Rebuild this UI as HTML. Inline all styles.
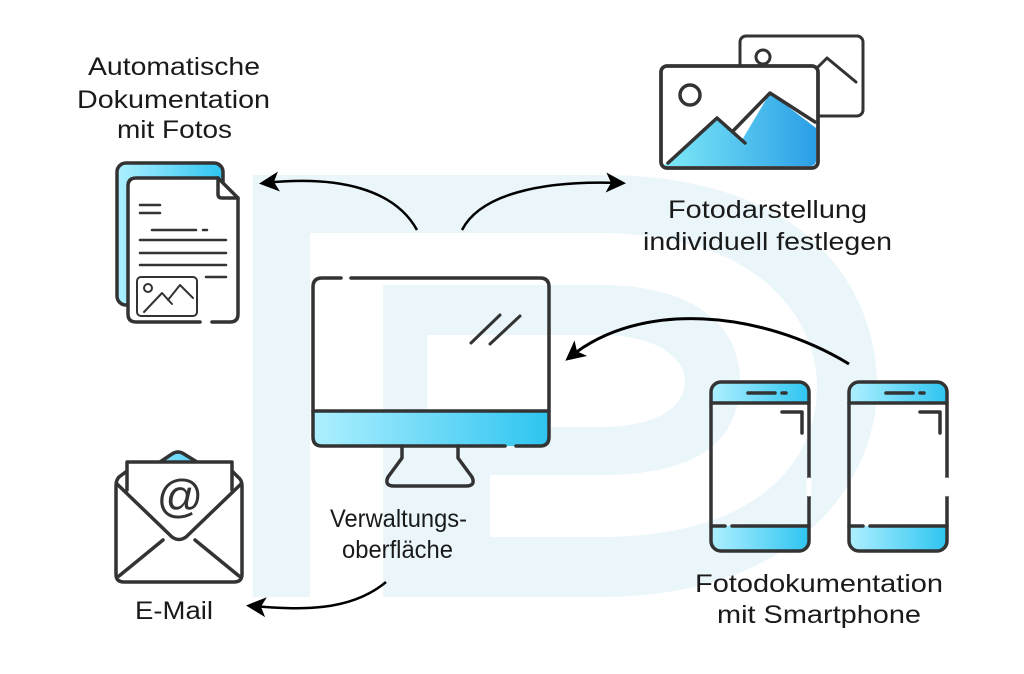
<!DOCTYPE html>
<html><head><meta charset="utf-8"><style>
html,body{margin:0;padding:0;background:#fff;}
svg{display:block;}
text{font-family:"Liberation Sans",sans-serif;font-size:25px;fill:#1a1a1a;}
</style></head><body>
<svg width="1024" height="674" viewBox="0 0 1024 674" xmlns="http://www.w3.org/2000/svg">
<defs>
<linearGradient id="g" x1="0" x2="1" y1="0" y2="0"><stop offset="0" stop-color="#aef0ff"/><stop offset="1" stop-color="#2ec4f0"/></linearGradient>
<linearGradient id="g2" x1="0" x2="1" y1="0" y2="0"><stop offset="0" stop-color="#7eeaf7"/><stop offset="1" stop-color="#2a9fe6"/></linearGradient>
<marker id="ah" viewBox="0 0 20 20" refX="14" refY="10" markerWidth="20" markerHeight="20" markerUnits="userSpaceOnUse" orient="auto"><path d="M0,0 L20,10 L0,20 L5,10 Z" fill="#000"/></marker>
</defs>
<!-- watermark -->
<path d="M253,175 H600 C820,175 877,300 877,386 C877,480 800,597 600,597 H253 Z" fill="#eaf6fa"/>
<path d="M310,233 H600 C760,233 817,320 817,386 C817,460 760,537 600,537 H310 Z" fill="#fff"/>
<rect x="310" y="233" width="73" height="364" fill="#fff"/>
<path d="M383,285 H600 C700,285 740,330 740,380 C740,440 700,475 600,475 H490 V537 H383 Z" fill="#eaf6fa"/>
<path d="M427,335 H600 C660,335 685,360 685,381 C685,405 660,427 600,427 H427 Z" fill="#fff"/>

<g fill="none" stroke="#333" stroke-width="3.5" stroke-linecap="round" stroke-linejoin="round">
<!-- document -->
<rect x="117" y="163" width="106" height="142" rx="9" fill="url(#g)"/>
<path d="M136,178 H218 L238,198 V314 Q238,322 230,322 H136 Q128,322 128,314 V186 Q128,178 136,178 Z" fill="#fff" stroke="none"/>
<path d="M218,178 H136 Q128,178 128,186 V314 Q128,322 136,322 H200 M212,322 H230 Q238,322 238,314 V198 L218,178"/>
<path d="M218,178 V194 Q218,198 222,198 H238"/>
<g stroke-width="2.5">
<path d="M140,205 H160 M140,213 H160 M152,230 H196 M203,230 H207 M140,240 H226 M140,253 H226 M140,265 H226 M206,277 H226"/>
<rect x="137" y="277" width="60" height="39" rx="4" stroke-width="2"/>
<path d="M144,312 L162,293 L172,304 M168,300 L180,285 L193,298" stroke-width="2"/>
<circle cx="148" cy="288" r="4" stroke-width="2"/>
</g>
<!-- photos -->
<rect x="740" y="36" width="123" height="80" rx="6" fill="#fff" stroke-width="3"/>
<circle cx="763" cy="57" r="7" stroke-width="3"/>
<path d="M805,80 L827,58 L856,82" stroke-width="3"/>
<rect x="661" y="66" width="157" height="102" rx="6" fill="#fff"/>
<path d="M663,166 L717,118 L742,140 L770,93 L816,128 V160 Q816,166 810,166 Z" fill="url(#g2)" stroke="none"/>
<path d="M668,163 L717,118 L745,143 M733,131 L770,93 L815,122"/>
<rect x="661" y="66" width="157" height="102" rx="6"/>
<circle cx="690" cy="95" r="10"/>
<!-- monitor -->
<path d="M313,411 H549 V437 Q549,446 540,446 H322 Q313,446 313,437 Z" fill="url(#g)" stroke="none"/>
<path d="M341,278 H322 Q313,278 313,287 V437 Q313,446 322,446 H505 M516,446 H540 Q549,446 549,437 V287 Q549,278 540,278 H351"/>
<path d="M313,411 H549"/>
<path d="M471,343 L500,315 M490,344 L520,316" stroke-width="3"/>
<path d="M402,446 V458 L388,477 Q384,486 394,486 H466 Q476,486 472,477 L458,458 V446"/>
<!-- phones -->
<g id="ph">
<path d="M711,403 V392 Q711,382 721,382 H799 Q809,382 809,392 V403 Z" fill="url(#g)" stroke="none"/>
<path d="M711,526 H809 V541 Q809,551 799,551 H721 Q711,551 711,541 Z" fill="url(#g)" stroke="none"/>
<rect x="711" y="382" width="98" height="169" rx="10"/>
<path d="M711,403 H809 M711,526 H725 M732,526 H809 M748,393 H775 M782,393 H786 M782,412 H802 V433"/>
<path d="M809,480 V494" stroke="#fff" stroke-width="5"/>
</g>
<use href="#ph" x="138"/>
<!-- envelope -->
<path d="M118,480 L172,455 Q178,451 184,455 L240,480 Z" fill="url(#g)" stroke="none"/>
<path d="M160,462 L172,454 Q178,450 184,454 L197,462"/>
<path d="M127,471 L119,477 Q116,480 116,486 V574 Q116,582 124,582 H234 Q242,582 242,574 V486 Q242,480 238,477 L232,471" fill="#fff"/>
<path d="M127,462 H232 V493 L186,536 Q179,542 172,536 L127,493 Z" fill="#fff" stroke="none"/>
<path d="M127,490 V462 H232 V490"/>
<path d="M117,484 L172,537 Q179,542 186,537 L241,484"/>
<path d="M119,576 L163,540 M239,576 L195,540"/>
</g>
<text x="180" y="512" text-anchor="middle" style="font-size:46px;fill:#333">@</text>

<!-- arrows -->
<g fill="none" stroke="#000" stroke-width="2.5">
<path d="M417,230 C395,190 340,175 265,183" marker-end="url(#ah)"/>
<path d="M462,230 C480,195 540,180 620,183" marker-end="url(#ah)"/>
<path d="M849,364 C760,310 640,300 570,357" marker-end="url(#ah)" stroke-width="3"/>
<path d="M386,582 C350,612 300,610 252,606" marker-end="url(#ah)"/>
</g>

<!-- labels -->
<text x="88" y="75" textLength="172" lengthAdjust="spacingAndGlyphs">Automatische</text>
<text x="77" y="108" textLength="193" lengthAdjust="spacingAndGlyphs">Dokumentation</text>
<text x="117" y="138" textLength="115" lengthAdjust="spacingAndGlyphs">mit Fotos</text>
<text x="668" y="218" textLength="199" lengthAdjust="spacingAndGlyphs">Fotodarstellung</text>
<text x="643" y="250" textLength="249" lengthAdjust="spacingAndGlyphs">individuell festlegen</text>
<text x="330" y="527" textLength="137" lengthAdjust="spacingAndGlyphs">Verwaltungs-</text>
<text x="342" y="558" textLength="111" lengthAdjust="spacingAndGlyphs">oberfläche</text>
<text x="135" y="619" textLength="78" lengthAdjust="spacingAndGlyphs">E-Mail</text>
<text x="695" y="592" textLength="248" lengthAdjust="spacingAndGlyphs">Fotodokumentation</text>
<text x="717" y="623" textLength="204" lengthAdjust="spacingAndGlyphs">mit Smartphone</text>
</svg>
</body></html>
